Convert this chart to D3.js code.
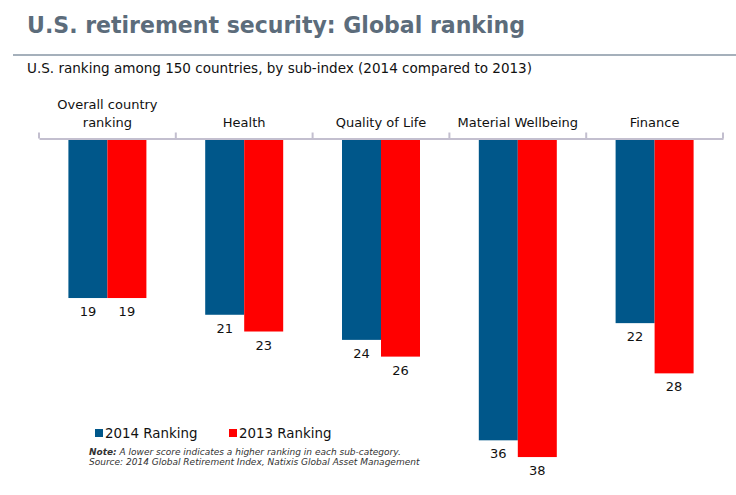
<!DOCTYPE html>
<html>
<head>
<meta charset="utf-8">
<script src="https://cdn.jsdelivr.net/npm/d3@7"></script>
<style>
  html, body { margin: 0; padding: 0; background: #ffffff; }
  svg { display: block; font-family: "DejaVu Sans", Verdana, sans-serif; }
</style>
</head>
<body>
<svg id="chart" width="736" height="495"></svg>
<script>
const categories = [["Overall country", "ranking"], ["Health"], ["Quality of Life"], ["Material Wellbeing"], ["Finance"]];
const series = ["2014 Ranking", "2013 Ranking"];
const values2014 = [19, 21, 24, 36, 22];
const values2013 = [19, 23, 26, 38, 28];
const colors = ["#00578a", "#ff0000"];

const svg = d3.select("#chart");
const catKeys = categories.map(c => c.join(" "));

const x0 = d3.scaleBand().domain(catKeys).range([39, 723]).paddingInner(0).paddingOuter(0);
const x1 = d3.scaleBand().domain(series).range([0, x0.bandwidth()]).paddingInner(0).paddingOuter(0.754);
const y = d3.scaleLinear().domain([0, 40]).range([139, 139 + 40 * 8.37]);

// Title
svg.append("text").attr("x", 27).attr("y", 33)
  .attr("font-size", 22.5).attr("font-weight", "bold").attr("fill", "#5c6c7b")
  .attr("textLength", 498).attr("lengthAdjust", "spacingAndGlyphs")
  .text("U.S. retirement security: Global ranking");
svg.append("line").attr("x1", 13).attr("x2", 736).attr("y1", 55).attr("y2", 55)
  .attr("stroke", "#8796a4").attr("stroke-width", 1.5);
svg.append("text").attr("x", 27).attr("y", 73)
  .attr("font-size", 13.5).attr("fill", "#111")
  .attr("textLength", 505).attr("lengthAdjust", "spacingAndGlyphs")
  .text("U.S. ranking among 150 countries, by sub-index (2014 compared to 2013)");

// Bars
const data = catKeys.map((k, i) => ({ key: k, vals: [values2014[i], values2013[i]] }));
const groups = svg.append("g").selectAll("g").data(data).join("g")
  .attr("transform", d => `translate(${x0(d.key)},0)`);
groups.selectAll("rect").data(d => d.vals.map((v, j) => ({ s: series[j], v, j })))
  .join("rect")
  .attr("x", d => x1(d.s)).attr("width", x1.bandwidth())
  .attr("y", y(0)).attr("height", d => y(d.v) - y(0))
  .attr("fill", d => colors[d.j]);
groups.selectAll("text.val").data(d => d.vals.map((v, j) => ({ s: series[j], v, j })))
  .join("text").attr("class", "val")
  .attr("x", d => x1(d.s) + x1.bandwidth() / 2)
  .attr("y", d => y(d.v) + 18)
  .attr("text-anchor", "middle").attr("font-size", 13).attr("fill", "#111")
  .text(d => d.v);

// Axis on top
const axis = d3.axisTop(x0).tickSize(0).tickFormat("");
const ag = svg.append("g").attr("transform", "translate(0,138.5)").call(axis);
ag.select(".domain").attr("stroke", "#c3bfcf").attr("stroke-width", 2);
ag.selectAll(".tick").remove();
const bounds = catKeys.map(k => x0(k)).concat([x0.range()[1]]);
ag.selectAll("line.sep").data(bounds).join("line").attr("class", "sep")
  .attr("x1", d => d).attr("x2", d => d).attr("y1", 0).attr("y2", -6)
  .attr("stroke", "#c3bfcf").attr("stroke-width", 2);

// Category labels
const labels = svg.append("g").selectAll("text").data(categories).join("text")
  .attr("text-anchor", "middle").attr("font-size", 13).attr("fill", "#111")
  .attr("x", (d, i) => x0(catKeys[i]) + x0.bandwidth() / 2);
labels.each(function(d) {
  const t = d3.select(this);
  d.forEach((line, li) => {
    t.append("tspan").attr("x", t.attr("x"))
      .attr("y", 127 - (d.length - 1 - li) * 18).text(line);
  });
});

// Legend
const legendX = [95, 229];
series.forEach((s, i) => {
  svg.append("rect").attr("x", legendX[i]).attr("y", 429).attr("width", 8).attr("height", 8).attr("fill", colors[i]);
  svg.append("text").attr("x", legendX[i] + 10).attr("y", 438).attr("font-size", 13.4).attr("fill", "#111").text(s);
});

// Note
const note = svg.append("text").attr("x", 89).attr("y", 455).attr("font-size", 9).attr("font-style", "italic").attr("fill", "#333");
note.append("tspan").attr("font-weight", "bold").text("Note:");
note.append("tspan").text(" A lower score indicates a higher ranking in each sub-category.");
svg.append("text").attr("x", 89).attr("y", 465).attr("font-size", 9).attr("font-style", "italic").attr("fill", "#333")
  .text("Source: 2014 Global Retirement Index, Natixis Global Asset Management");
</script>
</body>
</html>
